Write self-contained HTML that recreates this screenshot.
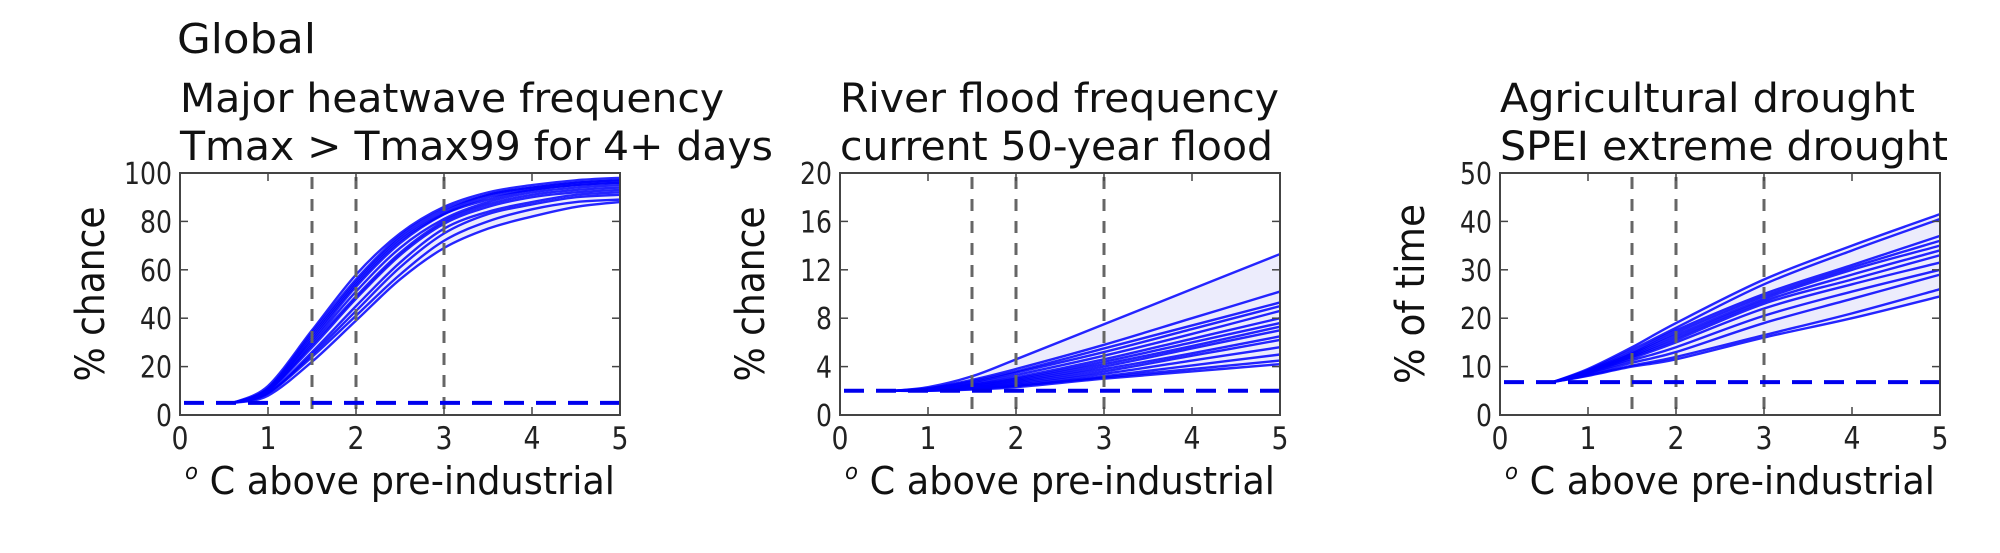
<!DOCTYPE html>
<html><head><meta charset="utf-8"><style>
html,body{margin:0;padding:0;background:#fff;width:2000px;height:553px;overflow:hidden}
svg{display:block;font-family:"DejaVu Sans","Liberation Sans",sans-serif}
</style></head><body>
<svg id="fig" width="2000" height="553" viewBox="0 0 2000 553">
<text x="177" y="53" font-size="41" textLength="139" lengthAdjust="spacingAndGlyphs" fill="#111">Global</text>
</svg>
<script>
// ---- Panel 1: heatwave ----
const heatX = [0.6,1,1.5,2,2.5,3,3.5,4,4.5,5];
const heatSeries = [
[5,12,35,58,75,86,92,95,97,98],
[5,11,33,55,73,84,91,94,96,97],
[5,11,31,53,71,83,90,93,95,96],
[5,10,30,51,69,81,88,92,94,95],
[5,10,29,49,67,80,87,91,93,94],
[5,10,28,48,66,79,86,90,92,93],
[5,9,26,45,63,77,84,88,91,92],
[5,9,25,43,61,75,83,87,90,91],
[5,9,24,41,58,72,80,85,88,89],
[5,8,22,39,56,69,77,82,86,88],
[5,10,32,54,72,83,89,93,95,96],
[5,11,34,56,74,85,91,94,96,97]];
const heatBaseline = 5;
const heatYTicks = [0,20,40,60,80,100];
// ---- Panel 2: flood ----
const floodX = [0.6,1,1.5,2,3,4,5];
const floodSeries = [
[2,2.3,3.2,4.6,7.5,10.4,13.3],
[2,2.2,2.9,3.8,5.8,8,10.2],
[2,2.2,2.8,3.6,5.5,7.4,9.3],
[2,2.2,2.7,3.5,5.2,7.1,9.0],
[2,2.15,2.6,3.3,4.9,6.7,8.6],
[2,2.1,2.5,3.1,4.6,6.3,8.0],
[2,2.1,2.5,3.0,4.4,6.0,7.6],
[2,2.1,2.4,2.9,4.2,5.7,7.3],
[2,2.1,2.4,2.8,4.0,5.5,7.0],
[2,2.05,2.3,2.7,3.8,5.1,6.5],
[2,2.05,2.3,2.6,3.6,4.9,6.2],
[2,2.05,2.25,2.5,3.4,4.5,5.6],
[2,2.05,2.2,2.4,3.2,4.1,5.0],
[2,2.0,2.15,2.4,3.1,3.8,4.5],
[2,2.0,2.1,2.3,3.0,3.6,4.2]];
const floodBaseline = 2;
const floodYTicks = [0,4,8,12,16,20];
// ---- Panel 3: drought ----
const droughtX = [0.6,1,1.5,2,3,4,5];
const droughtSeries = [
[6.8,9.5,14,19,28,35,41.5],
[6.8,9.3,13.5,18,27,34,40.5],
[6.8,9.2,13,17.5,25,31,37],
[6.8,9.1,12.7,17,24.5,30.5,36],
[6.8,9,12.5,16.5,24,30,35],
[6.8,8.9,12.2,16,23.5,29,34],
[6.8,8.8,12,15.5,23,28,33],
[6.8,8.7,11.7,15,22,27,31.5],
[6.8,8.6,11.3,14,20.5,25.5,30],
[6.8,8.4,10.8,13,19,24,29],
[6.8,8.2,10.2,12,16.5,21,26],
[6.8,8.1,10,11.5,16,20,24.5]];
const droughtBaseline = 6.8;
const droughtYTicks = [0,10,20,30,40,50];
const xTicks = [0,1,2,3,4,5];
const refLines = [1.5,2,3];

const NS="http://www.w3.org/2000/svg";
const svg=document.getElementById('fig');
function mk(tag,attrs,parent){const e=document.createElementNS(NS,tag);for(const k in attrs)e.setAttribute(k,attrs[k]);(parent||svg).appendChild(e);return e;}
function smooth(pts){let d=`M${pts[0][0]},${pts[0][1]}`;for(let i=0;i<pts.length-1;i++){const p0=pts[Math.max(0,i-1)],p1=pts[i],p2=pts[i+1],p3=pts[Math.min(pts.length-1,i+2)];
const c1=[p1[0]+(p2[0]-p0[0])/6,p1[1]+(p2[1]-p0[1])/6],c2=[p2[0]-(p3[0]-p1[0])/6,p2[1]-(p3[1]-p1[1])/6];
d+=` C${c1[0]},${c1[1]} ${c2[0]},${c2[1]} ${p2[0]},${p2[1]}`;}return d;}

function panel(cfg){
 const L=cfg.left,R=cfg.left+440,T=173,B=415;
 const g=mk('g',{});
 
 
 const ymax=cfg.yTicks[cfg.yTicks.length-1];
 const sx=v=>L+(v/5)*(R-L), sy=v=>B-(v/ymax)*(B-T);
 cfg.title.forEach((t,i)=>{const e=mk('text',{x:L,y:112+i*48,'font-size':40,fill:'#111',textLength:cfg.titleW[i],lengthAdjust:'spacingAndGlyphs'},g);e.textContent=t;
  
  });
 const n=cfg.xs.length;const top=[],bot=[];
 for(let i=0;i<n;i++){const col=cfg.series.map(s=>s[i]);top.push([sx(cfg.xs[i]),sy(Math.max(...col))]);bot.push([sx(cfg.xs[i]),sy(Math.min(...col))]);}
 const fill=mk('path',{d:smooth(top)+' L'+smooth(bot.slice().reverse()).slice(1),fill:'#ececfc',stroke:'none'},g);
 
 
 cfg.series.forEach(s=>{const p=mk('path',{d:smooth(s.map((v,i)=>[sx(cfg.xs[i]),sy(v)])),fill:'none',stroke:'#0000ff','stroke-width':2.4,'stroke-opacity':0.85},g);
  
  });
 refLines.forEach(v=>{const l=mk('line',{x1:sx(v),x2:sx(v),y1:T+4,y2:B,stroke:'#666','stroke-width':3,'stroke-dasharray':'12 10'},g);
  
  });
 const bl=mk('line',{x1:L+4,x2:R,y1:sy(cfg.baseline),y2:sy(cfg.baseline),stroke:'#0000ee','stroke-width':4,'stroke-dasharray':'20 12'},g);
 
 
 const fr=mk('rect',{x:L,y:T,width:R-L,height:B-T,fill:'none',stroke:'#444','stroke-width':2},g);
 
 
 xTicks.forEach(v=>{const x=sx(v);mk('line',{x1:x,x2:x,y1:B,y2:B-8,stroke:'#444','stroke-width':1.5},g);mk('line',{x1:x,x2:x,y1:T,y2:T+8,stroke:'#444','stroke-width':1.5},g);
  const t=mk('text',{x:x,y:449,'font-size':31,'text-anchor':'middle',fill:'#222',textLength:17,lengthAdjust:'spacingAndGlyphs'},g);t.textContent=v;
  
  });
 cfg.yTicks.forEach(v=>{const y=sy(v);mk('line',{x1:L,x2:L+8,y1:y,y2:y,stroke:'#444','stroke-width':1.5},g);mk('line',{x1:R,x2:R-8,y1:y,y2:y,stroke:'#444','stroke-width':1.5},g);
  const s=String(v);
  const t=mk('text',{x:L-8,y:y+11,'font-size':30,'text-anchor':'end',fill:'#222',textLength:s.length*16,lengthAdjust:'spacingAndGlyphs'},g);t.textContent=s;
  
  });
 const xl=mk('text',{x:(L+R)/2,y:494,'font-size':38,'text-anchor':'middle',fill:'#111',textLength:430,lengthAdjust:'spacingAndGlyphs'},g);
 xl.innerHTML='<tspan font-size="22" font-style="italic" dy="-15">o</tspan><tspan dy="15"> C above pre-industrial</tspan>';
 
 
 const yl=mk('text',{x:0,y:0,'font-size':40,'text-anchor':'middle',fill:'#111',textLength:cfg.ylW,lengthAdjust:'spacingAndGlyphs',transform:`translate(${L-76},${(T+B)/2}) rotate(-90)`},g);
 yl.textContent=cfg.ylabel;
 
 
}
panel({name:'heatwave-panel',left:180,title:['Major heatwave frequency','Tmax > Tmax99 for 4+ days'],titleW:[544,593],xs:heatX,series:heatSeries,baseline:heatBaseline,yTicks:heatYTicks,ylabel:'% chance',ylW:175});
panel({name:'flood-panel',left:840,title:['River flood frequency','current 50-year flood'],titleW:[439,433],xs:floodX,series:floodSeries,baseline:floodBaseline,yTicks:floodYTicks,ylabel:'% chance',ylW:175});
panel({name:'drought-panel',left:1500,title:['Agricultural drought','SPEI extreme drought'],titleW:[415,448],xs:droughtX,series:droughtSeries,baseline:droughtBaseline,yTicks:droughtYTicks,ylabel:'% of time',ylW:180});
</script>
</body></html>
